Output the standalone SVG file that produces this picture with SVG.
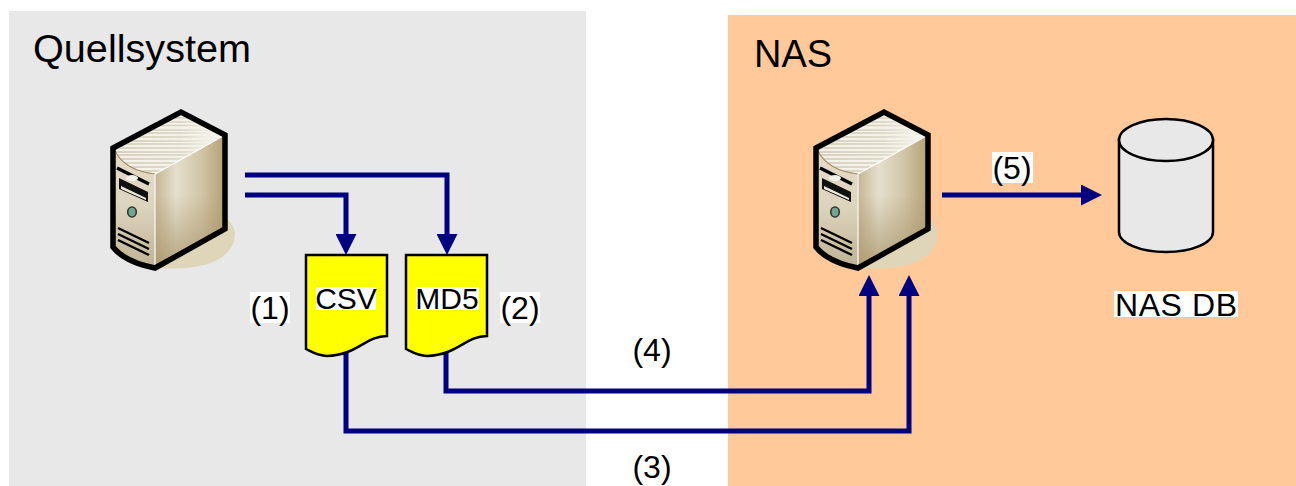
<svg xmlns="http://www.w3.org/2000/svg" width="1296" height="486" viewBox="0 0 1296 486">
<style>
text{font-family:"Liberation Sans",Arial,sans-serif;fill:#000}
.t{font-size:39px}
.l{font-size:30px;text-anchor:middle}
.n{font-size:32px;text-anchor:middle}
.bg{fill:#fff}
.doc{fill:#ff0;stroke:#000;stroke-width:2.5;stroke-linejoin:miter}
.c{fill:none;stroke:#000080;stroke-width:5}
.slot{stroke:#000;stroke-width:2.4;fill:none}
</style>
<defs>
<marker id="a" markerUnits="userSpaceOnUse" markerWidth="21" markerHeight="21" refX="5" refY="10.5" orient="auto"><path d="M0 0L21 10.5L0 21Z" fill="#000080"/></marker>
<linearGradient id="side" x1="0" y1="0" x2="1" y2="0"><stop offset="0" stop-color="#c4b695"/><stop offset=".3" stop-color="#e6dfcd"/><stop offset=".65" stop-color="#d2c6a8"/><stop offset="1" stop-color="#b3a175"/></linearGradient>
<linearGradient id="sideV" x1="0" y1="0" x2="0" y2="1"><stop offset=".45" stop-color="#a8956a" stop-opacity="0"/><stop offset="1" stop-color="#a8956a" stop-opacity=".8"/></linearGradient>
<linearGradient id="front" x1="0" y1="0" x2="0" y2="1"><stop offset="0" stop-color="#e9e3d2"/><stop offset=".6" stop-color="#ddd4bd"/><stop offset="1" stop-color="#bfb294"/></linearGradient>
<linearGradient id="st" gradientUnits="userSpaceOnUse" x1="115" y1="0" x2="225" y2="0"><stop offset="0" stop-color="#cfc7b2"/><stop offset=".6" stop-color="#d8d2c2"/><stop offset="1" stop-color="#fff"/></linearGradient>
<clipPath id="tc"><path d="M115 151L181 113L225 135L155 174C138 172 122 165 115 151Z"/></clipPath>
<g id="srv">
<path d="M155 268C185 270 222 268 233 244C237 233 234 226 228 220L155 262Z" fill="#dfd5b9"/>
<path d="M113 148L181 112L225 135L225 229L155 268C135 264 120 256 113 247Z" fill="url(#front)"/>
<path d="M155 174L225 135V229L155 268Z" fill="url(#side)"/>
<path d="M155 174L225 135V229L155 268Z" fill="url(#sideV)"/>
<path d="M115 151L181 113L225 135L155 174C138 172 122 165 115 151Z" fill="#f4f1e8"/>
<g clip-path="url(#tc)" stroke="url(#st)" stroke-width="1.4" fill="none">
<path d="M110 118H230M110 122H230M110 125.500H230M110 130H230M110 133H230M110 137H230M110 141H230M110 144H230M110 148H230M110 152H230M110 155H230M110 159H230M110 163H230M110 167H230M110 171H230"/>
</g>
<path d="M115 151C122 165 138 172 155 174" fill="none" stroke="#a88f68" stroke-width="1.2"/>
<path d="M155 174L225 135" stroke="#fff" stroke-width="1.2"/>
<path d="M155 174V268" stroke="#f2efe8" stroke-width="1.5"/>
<path d="M117 168L149 184" stroke="#000" stroke-width="3.4" fill="none"/>
<ellipse cx="132" cy="178" rx="6" ry="3" fill="#f4f1e8"/>
<path d="M119 178L148 192V202L119 189Z" fill="#111"/>
<path d="M121 186L146 198V200L121 189Z" fill="#efe9da"/>
<ellipse cx="132" cy="212" rx="4.3" ry="5" fill="#6fa88e" stroke="#333" stroke-width="1.6"/>
<path class="slot" d="M118 228L149 243M118 234L149 249M118 240L149 255"/>
<path d="M113 148L181 112L225 135V229L155 268C135 264 120 256 113 247Z" fill="none" stroke="#000" stroke-width="5.500" stroke-linejoin="miter"/>
</g>
</defs>
<rect id="quellsystem" x="9" y="11" width="577" height="475" fill="#e8e8e8"/>
<rect id="nas" x="728" y="15" width="568" height="471" fill="#ffc999"/>
<text class="t" x="33" y="62" textLength="218" lengthAdjust="spacingAndGlyphs">Quellsystem</text>
<text class="t" x="754" y="67" textLength="78" lengthAdjust="spacingAndGlyphs">NAS</text>
<g id="connectors">
<path class="c" d="M245 175H447V239" marker-end="url(#a)"/>
<path class="c" d="M245 195H346V239" marker-end="url(#a)"/>
<path class="c" d="M346 350V431H909V291" marker-end="url(#a)"/>
<path class="c" d="M446 350V391H869V291" marker-end="url(#a)"/>
<path class="c" d="M942 195H1086" marker-end="url(#a)"/>
</g>
<g id="server-source"><use href="#srv"/></g>
<g id="server-nas"><use href="#srv" x="703"/></g>
<g id="doc-csv">
<path class="doc" d="M306 255H387V336C365 336 358 355 327 356C318 356 312 352 306 349Z"/>
<rect class="bg" x="316" y="287" width="60" height="23"/>
<text class="l" x="346" y="309">CSV</text>
</g>
<g id="doc-md5">
<path class="doc" d="M406 255H487V336C465 336 458 355 427 356C418 356 412 352 406 349Z"/>
<rect class="bg" x="416" y="287" width="63" height="23"/>
<text class="l" x="447" y="309">MD5</text>
</g>
<g id="db">
<path d="M1119 140V232C1119 243 1140 252 1166 252S1213 243 1213 232V140Z" fill="#e8e8e8" stroke="#000" stroke-width="2.500"/>
<ellipse cx="1166" cy="140" rx="47" ry="21" fill="#e8e8e8" stroke="#000" stroke-width="2.500"/>
<rect class="bg" x="1114" y="291" width="124" height="26"/>
<text class="n" x="1176" y="316" textLength="122" lengthAdjust="spacing">NAS DB</text>
</g>
<g id="labels">
<rect class="bg" x="250" y="292" width="40" height="31"/><text class="n" x="270" y="319">(1)</text>
<rect class="bg" x="500" y="292" width="40" height="31"/><text class="n" x="520" y="319">(2)</text>
<rect class="bg" x="992" y="152" width="41" height="31"/><text class="n" x="1012" y="179">(5)</text>
<text class="n" x="652" y="361">(4)</text>
<text class="n" x="652" y="478">(3)</text>
</g>
</svg>
